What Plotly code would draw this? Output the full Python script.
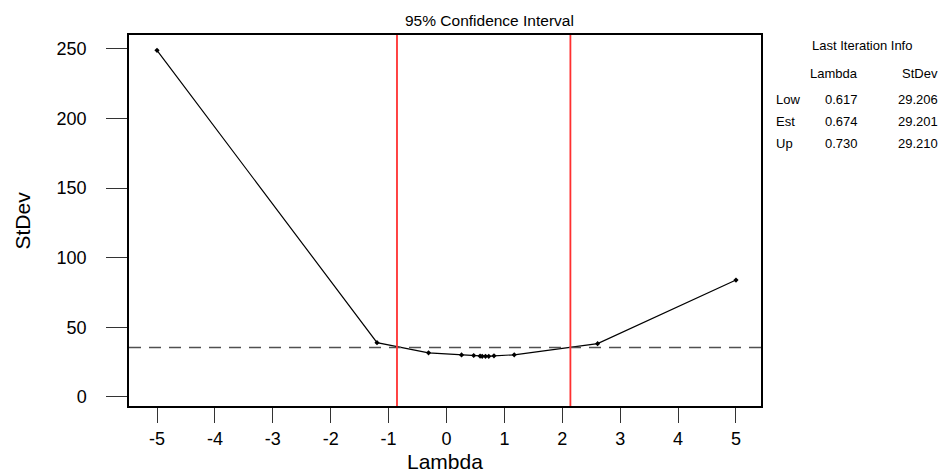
import plotly.graph_objects as go

# ---- data ----
lambdas = [-5.0, -1.2, -0.31, 0.26, 0.47, 0.58, 0.617, 0.674, 0.730, 0.82, 1.17, 2.61, 5.0]
stdevs = [249.0, 39.0, 31.7, 30.2, 29.8, 29.4, 29.206, 29.201, 29.210, 29.6, 30.3, 38.3, 84.0]
ci_lower = -0.855
ci_upper = 2.14
ci_threshold = 35.5

x_ticks = [-5, -4, -3, -2, -1, 0, 1, 2, 3, 4, 5]
y_ticks = [0, 50, 100, 150, 200, 250]

table_title = "Last Iteration Info"
table_headers = ["Lambda", "StDev"]
table_rows = ["Low", "Est", "Up"]
table_lambda = ["0.617", "0.674", "0.730"]
table_stdev = ["29.206", "29.201", "29.210"]

FONT = "Liberation Sans, Arial, sans-serif"

fig = go.Figure()

fig.add_trace(go.Scatter(
    x=lambdas, y=stdevs, mode="lines+markers",
    line=dict(color="black", width=1.2),
    marker=dict(symbol="diamond", size=4, color="black"),
    showlegend=False, hoverinfo="x+y",
))

# CI threshold dashed line
fig.add_hline(y=ci_threshold, line=dict(color="#505050", width=1.6, dash="12px,8px"))
# CI bounds
for xv in (ci_lower, ci_upper):
    fig.add_vline(x=xv, line=dict(color="#ff3030", width=1.8))

L, R, T, B = 129, 181, 35, 66
W, H = 942, 472
pw, ph = W - L - R, H - T - B

def px_x(px):
    return (px - L) / pw

def px_y(py):
    return (H - B - py) / ph

annotations = []
annotations.append(dict(text="95% Confidence Interval", x=px_x(489), y=px_y(20),
                        xref="paper", yref="paper", showarrow=False,
                        font=dict(size=15.5, color="black", family=FONT),
                        xanchor="center", yanchor="middle"))
annotations.append(dict(text="StDev", x=px_x(22), y=px_y(220.5), textangle=-90,
                        xref="paper", yref="paper", showarrow=False,
                        font=dict(size=21, color="black", family=FONT),
                        xanchor="center", yanchor="middle"))
annotations.append(dict(text="Lambda", x=px_x(445), y=px_y(461),
                        xref="paper", yref="paper", showarrow=False,
                        font=dict(size=21, color="black", family=FONT),
                        xanchor="center", yanchor="middle"))

tf = dict(size=13, color="black", family=FONT)
annotations.append(dict(text=table_title, x=px_x(862), y=px_y(46), xref="paper", yref="paper",
                        showarrow=False, font=tf, xanchor="center", yanchor="middle"))
annotations.append(dict(text=table_headers[0], x=px_x(860), y=px_y(73), xref="paper", yref="paper",
                        showarrow=False, font=tf, xanchor="right", yanchor="middle"))
annotations.append(dict(text=table_headers[1], x=px_x(940), y=px_y(73), xref="paper", yref="paper",
                        showarrow=False, font=tf, xanchor="right", yanchor="middle"))
row_y = [99, 121, 143]
for lab, lv, sv, ry in zip(table_rows, table_lambda, table_stdev, row_y):
    annotations.append(dict(text=lab, x=px_x(774), y=px_y(ry), xref="paper", yref="paper",
                            showarrow=False, font=tf, xanchor="left", yanchor="middle"))
    annotations.append(dict(text=lv, x=px_x(860), y=px_y(ry), xref="paper", yref="paper",
                            showarrow=False, font=tf, xanchor="right", yanchor="middle"))
    annotations.append(dict(text=sv, x=px_x(940), y=px_y(ry), xref="paper", yref="paper",
                            showarrow=False, font=tf, xanchor="right", yanchor="middle"))

fig.update_layout(
    width=W, height=H,
    margin=dict(l=L, r=R, t=T, b=B, pad=0),
    paper_bgcolor="white", plot_bgcolor="white",
    font=dict(family=FONT, color="black"),
    annotations=annotations,
    showlegend=False,
)

fig.update_xaxes(
    range=[-5.4836, 5.432], tickmode="array", tickvals=x_ticks,
    ticktext=[str(v) for v in x_ticks],
    showgrid=False, zeroline=False,
    showline=True, linecolor="black", linewidth=1.5, mirror=True,
    ticks="outside", ticklen=15, tickwidth=1.2, tickcolor="#333333",
    tickfont=dict(size=18, color="black", family=FONT), ticklabelstandoff=1,
)
fig.update_yaxes(
    range=[-6.47, 260.0], tickmode="array", tickvals=y_ticks,
    ticktext=[str(v) for v in y_ticks],
    showgrid=False, zeroline=False,
    showline=True, linecolor="black", linewidth=1.5, mirror=True,
    ticks="outside", ticklen=21, tickwidth=1.2, tickcolor="#333333",
    tickfont=dict(size=18, color="black", family=FONT), ticklabelstandoff=16,
)

fig.write_html("out.html")
